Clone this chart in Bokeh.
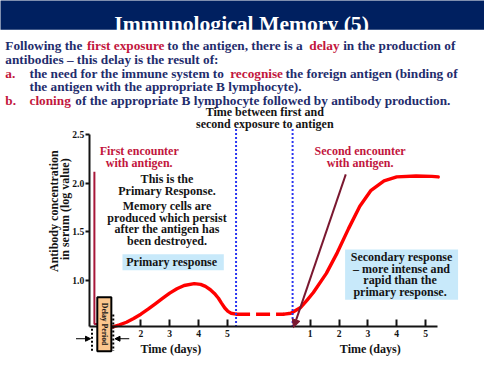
import math
from bokeh.plotting import figure
from bokeh.models import (Range1d, LinearAxis, FixedTicker, Label, BoxAnnotation,
                          Arrow, NormalHead)
from bokeh.embed import file_html
from bokeh.resources import INLINE

# ---------------- data ----------------
# primary response: time in days after first exposure, log antibody concentration
primary_days = [1.03, 1.26, 1.50, 1.75, 2.00, 2.25, 2.50, 2.75, 3.00, 3.25, 3.50,
                3.85, 4.07, 4.24, 4.41, 4.55, 4.69, 4.79, 4.91, 5.02, 5.13, 5.30]
primary_level = [0.516, 0.537, 0.565, 0.603, 0.648, 0.700, 0.755, 0.810, 0.865, 0.910, 0.944,
                 0.963, 0.955, 0.934, 0.900, 0.862, 0.812, 0.765, 0.712, 0.677, 0.658, 0.648]
# secondary response: time in days after second exposure
secondary_days = [0.10, 0.33, 0.67, 0.90, 1.11, 1.56, 1.94, 2.33, 2.72, 3.11, 3.56,
                  4.00, 4.67, 5.22, 5.44]
secondary_level = [0.648, 0.658, 0.717, 0.796, 0.872, 1.069, 1.283, 1.530, 1.760, 1.925, 2.023,
                   2.063, 2.073, 2.069, 2.063]
SECOND_OFFSET = 6.87          # where the second time scale starts on the shared axis
primary_ticks = [2, 3, 4, 5]
secondary_ticks = [1, 2, 3, 4, 5]
y_ticks = [1.0, 1.5, 2.0, 2.5]
y_tick_labels = ["1.0", "1.5", "2.0", "2.5"]
exposure_marks = [5.30, 0.39]  # end of primary (primary days), second exposure (secondary days)

# ---------------- styling ----------------
FONT = "Liberation Serif"
NAVY = "#1f2d6d"
CRIMSON = "#c2163d"
DARK = "#141414"
S = 0.962  # the 500x375 slide is drawn into a 484x359 canvas


def fs(size):
    return f"{size * S:.2f}px"


W, H = 484, 359
p = figure(width=W, height=H, output_backend="svg", toolbar_location=None,
           x_range=Range1d(-2.8658, 13.9128), y_range=Range1d(0.1809, 3.8816),
           x_axis_type=None, y_axis_type=None, min_border=0,
           min_border_left=0, min_border_right=0, min_border_top=0, min_border_bottom=0,
           outline_line_color=None)
p.title.visible = False
# slide layout coordinates (pixels of the 500x375 slide)
p.extra_x_ranges = {"px": Range1d(0, 500)}
p.extra_y_ranges = {"px": Range1d(375, 0)}

X_AXIS_AT = 0.5164
Y_AXIS_AT = 0.2114

# ---------------- axes ----------------
yaxis = LinearAxis(fixed_location=Y_AXIS_AT, bounds=(X_AXIS_AT, 2.5),
                   ticker=FixedTicker(ticks=y_ticks, minor_ticks=[]),
                   major_label_overrides=dict(zip(y_ticks, y_tick_labels)),
                   axis_line_width=2, axis_line_color=DARK,
                   major_tick_in=0, major_tick_out=4, major_tick_line_width=2,
                   major_tick_line_color=DARK, minor_tick_line_color=None,
                   major_label_standoff=1, major_label_text_font=FONT,
                   major_label_text_font_style="bold", major_label_text_font_size=fs(10),
                   major_label_text_color=DARK)
p.add_layout(yaxis, "left")

x_tick_pos = primary_ticks + [t + SECOND_OFFSET for t in secondary_ticks]
x_tick_lab = [str(t) for t in primary_ticks] + [str(t) for t in secondary_ticks]
xaxis = LinearAxis(fixed_location=X_AXIS_AT, bounds=(Y_AXIS_AT, 12.268),
                   ticker=FixedTicker(ticks=x_tick_pos, minor_ticks=[]),
                   major_label_overrides=dict(zip(x_tick_pos, x_tick_lab)),
                   axis_line_width=2, axis_line_color=DARK,
                   major_tick_in=7, major_tick_out=0, major_tick_line_width=2,
                   major_tick_line_color=DARK, minor_tick_line_color=None,
                   major_label_standoff=3, major_label_text_font=FONT,
                   major_label_text_font_style="bold", major_label_text_font_size=fs(10),
                   major_label_text_color=DARK)
p.add_layout(xaxis, "below")

# ---------------- curves ----------------
p.line(primary_days, primary_level, line_color="red", line_width=3.4, line_join="round",
       line_cap="round")
memory_x = [primary_days[-1], secondary_days[0] + SECOND_OFFSET]
memory_y = [primary_level[-1], secondary_level[0]]
p.line(memory_x, memory_y, line_color="red", line_width=3.4, line_dash="14 6")
p.line([d + SECOND_OFFSET for d in secondary_days], secondary_level, line_color="red",
       line_width=3.4, line_join="round", line_cap="round")

mark_x = [exposure_marks[0], exposure_marks[1] + SECOND_OFFSET]
p.segment(x0=mark_x, y0=[X_AXIS_AT] * 2, x1=mark_x, y1=[2.56] * 2,
          line_color="#2a35f0", line_width=2, line_dash="2 2")

# first encounter pointer line
p.line([97, 97, 101], [179, 338, 338], x_range_name="px", y_range_name="px",
       line_color="#a8183a", line_width=2)

# delay-period dotted guides
p.segment(x0=[94.5, 116.5], y0=[343, 328], x1=[94.5, 116.5], y1=[366, 366],
          x_range_name="px", y_range_name="px", line_color="black", line_width=2,
          line_dash="2 2")

# ---------------- boxes ----------------
def box(l, r, t, b, fill, line=None, lw=0):
    bx = BoxAnnotation(left=l, right=r, top=t, bottom=b, fill_color=fill, fill_alpha=1,
                       line_color=line, line_width=lw, line_alpha=1 if line else 0,
                       x_range_name="px", y_range_name="px")
    p.add_layout(bx)

box(-5, 505, -5, 30.5, "#002060")
box(126, 230.7, 265, 281.7, "#c8e9fa")
box(356, 472.7, 260, 312.7, "#c8e9fa")
box(100, 114.5, 310, 366.5, "#fbc68e", "black", 2)

# arrows
p.add_layout(Arrow(x_start=356.7, y_start=181.7, x_end=302.7, y_end=341.7,
                   x_range_name="px", y_range_name="px", line_color="#7a1830", line_width=2,
                   end=NormalHead(size=8, fill_color="#7a1830", line_color="#7a1830")))
p.add_layout(Arrow(x_start=78, y_start=353.3, x_end=93, y_end=353.3,
                   x_range_name="px", y_range_name="px", line_color="black", line_width=1,
                   end=NormalHead(size=5, fill_color="black", line_color="black")))
p.add_layout(Arrow(x_start=133, y_start=353.3, x_end=118.3, y_end=353.3,
                   x_range_name="px", y_range_name="px", line_color="black", line_width=1,
                   end=NormalHead(size=5, fill_color="black", line_color="black")))

# ---------------- texts ----------------
def lab(x, y, text, color=DARK, size=12.5, align="center", baseline="middle", angle=0):
    p.add_layout(Label(x=x, y=y, text=text, x_range_name="px", y_range_name="px",
                       text_color=color, text_font=FONT, text_font_style="bold",
                       text_font_size=fs(size), text_align=align, text_baseline=baseline,
                       angle=angle))

lab(249, 24.5, "Immunological Memory (5)", "white", 22.5, baseline="alphabetic")

BS = 13.8
def body(x, y, text, color):
    lab(x, y, text, color, BS, align="left", baseline="alphabetic")

body(5, 47.5, "Following the", NAVY)
body(89.3, 47.5, "first exposure", CRIMSON)
body(172.3, 47.5, "to the antigen, there is a", NAVY)
body(319, 47.5, "delay", CRIMSON)
body(354, 47.5, "in the production of", NAVY)
body(5, 61.7, "antibodies \u2013 this delay is the result of:", NAVY)
body(5, 76, "a.", CRIMSON)
body(30, 76, "the need for the immune system to", NAVY)
body(237.3, 76, "recognise", CRIMSON)
body(294.3, 76, "the foreign antigen (binding of", NAVY)
body(30, 90, "the antigen with the appropriate B lymphocyte).", NAVY)
body(5, 104, "b.", CRIMSON)
body(30, 104, "cloning", CRIMSON)
body(77.3, 104, "of the appropriate B lymphocyte followed by antibody production.", NAVY)

lab(273, 116.7, "Time between first and")
lab(273, 128.5, "second exposure to antigen")

lab(143.3, 157.3, "First encounter", CRIMSON)
lab(143.3, 170, "with antigen.", CRIMSON)
lab(371.5, 157.3, "Second encounter", CRIMSON)
lab(371.5, 170, "with antigen.", CRIMSON)

lab(172, 186.7, "This is the")
lab(172, 199.3, "Primary Response.")
lab(172, 215, "Memory cells are")
lab(172, 227.3, "produced which persist")
lab(172, 239, "after the antigen has")
lab(172, 250.7, "been destroyed.")

lab(178.4, 273.3, "Primary  response")
lab(414.3, 268.3, "Secondary response")
lab(414.3, 280.5, "\u2013 more intense and")
lab(414.3, 292.3, "rapid  than the")
lab(414.3, 304, "primary  response.")

lab(55, 220, "Antibody concentration", angle=math.pi / 2)
lab(66.5, 218, "in serum (log value)", angle=math.pi / 2)

lab(176, 364, "Time (days)")
lab(382, 364, "Time (days)")

lab(107.5, 338, "Delay Period", size=8, angle=-math.pi / 2)

open("out.html", "w").write(file_html(p, INLINE))
